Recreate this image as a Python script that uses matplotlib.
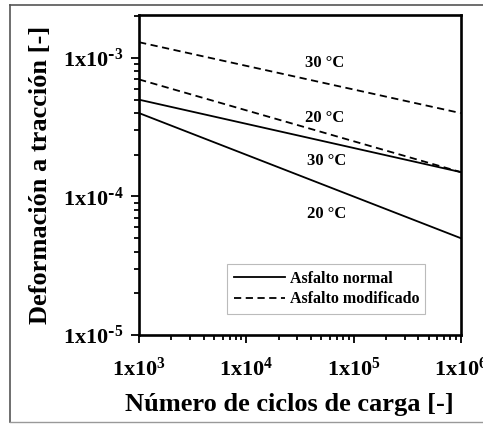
import matplotlib

matplotlib.use("Agg")

import matplotlib.pyplot as plt
from matplotlib.lines import Line2D

# curvas de fatiga: deformacion a traccion vs numero de ciclos (log-log)
ciclos = [1e3, 1e6]
normal_20 = [4.0e-4, 5.0e-5]
normal_30 = [5.0e-4, 1.5e-4]
modif_20 = [7.0e-4, 1.5e-4]
modif_30 = [1.3e-3, 4.0e-4]

etiquetas = ["30 °C", "20 °C", "30 °C", "20 °C"]
etiq_x = [5.4e4, 5.4e4, 5.6e4, 5.6e4]
etiq_y = [9.2e-4, 3.7e-4, 1.8e-4, 7.5e-5]

xticks = [1e3, 1e4, 1e5, 1e6]
xlabels = ["1x10$^{3}$", "1x10$^{4}$", "1x10$^{5}$", "1x10$^{6}$"]
yticks = [1e-5, 1e-4, 1e-3]
ylabels = ["1x10$^{\\text{-}5}$", "1x10$^{\\text{-}4}$", "1x10$^{\\text{-}3}$"]

plt.rcParams["font.family"] = "Liberation Serif"
plt.rcParams["font.weight"] = "bold"
plt.rcParams["mathtext.default"] = "regular"

fig = plt.figure(figsize=(4.83, 4.24), dpi=100)
ax = fig.add_axes([0.288, 0.21, 0.666, 0.755])

ax.plot(ciclos, normal_20, color="black", lw=1.3)
ax.plot(ciclos, normal_30, color="black", lw=1.3, label="Asfalto normal")
ax.plot(ciclos, modif_20, color="black", lw=1.3, ls=(0, (4, 2.5)))
ax.plot(ciclos, modif_30, color="black", lw=1.3, ls=(0, (4, 2.5)),
        label="Asfalto modificado")

for t, x, y in zip(etiquetas, etiq_x, etiq_y):
    ax.text(x, y, t, ha="center", va="center", fontsize=12, fontweight="bold")

ax.set_xscale("log")
ax.set_yscale("log")
ax.set_xlim(1e3, 1e6)
ax.set_ylim(1e-5, 2.05e-3)
ax.set_xticks(xticks, xlabels)
ax.set_yticks(yticks, ylabels)
ax.tick_params(which="both", direction="out", top=False, right=False,
               labelsize=16, width=1.3)
ax.tick_params(which="major", length=6, pad=5)
ax.tick_params(axis="x", which="major", pad=10)
ax.tick_params(which="minor", length=3.5)
for s in ax.spines.values():
    s.set_linewidth(1.9)

ax.set_xlabel("Número de ciclos de carga [-]", fontsize=19, fontweight="bold",
              labelpad=9)
ax.xaxis.label.set_x(0.466)
ax.set_ylabel("Deformación a tracción [-]", fontsize=19, fontweight="bold",
              labelpad=8)

leg = ax.legend(loc="lower right", bbox_to_anchor=(0.89, 0.066), fontsize=11.5,
                frameon=True, fancybox=False, framealpha=1, handlelength=3.2,
                handletextpad=0.3, borderpad=0.4, labelspacing=0.3,
                borderaxespad=0)
leg.get_frame().set_edgecolor("#bbbbbb")
leg.get_frame().set_linewidth(0.8)

# marco exterior de la figura
borde = "#555555"
x0 = 10 / 483
fig.add_artist(Line2D([x0, x0], [2 / 424, 419 / 424], color=borde, lw=1.2))
fig.add_artist(Line2D([x0, 1.0], [419 / 424, 419 / 424], color=borde, lw=1.2))
fig.add_artist(Line2D([x0, 1.0], [2 / 424, 2 / 424], color="#999999", lw=1.0))

fig.savefig("out.png", dpi=100)
